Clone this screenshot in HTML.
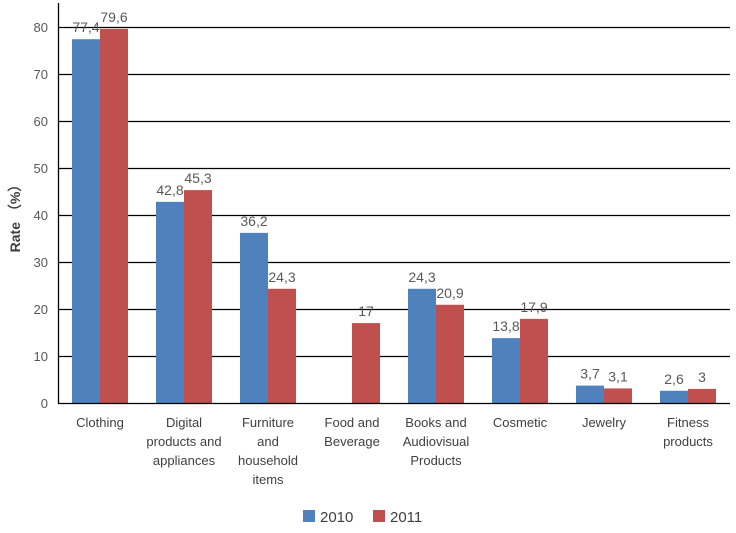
<!DOCTYPE html>
<html><head><meta charset="utf-8"><style>
body{margin:0;background:#fff}
svg{font-family:"Liberation Sans","DejaVu Sans",sans-serif}
</style></head><body>
<svg id="c" width="736" height="528"></svg>
<script>
const categories=[["Clothing"],["Digital","products and","appliances"],["Furniture","and","household","items"],["Food and","Beverage"],["Books and","Audiovisual","Products"],["Cosmetic"],["Jewelry"],["Fitness","products"]];
const series2010=[77.4,42.8,36.2,null,24.3,13.8,3.7,2.6];
const series2011=[79.6,45.3,24.3,17,20.9,17.9,3.1,3];
const ticks=[0,10,20,30,40,50,60,70,80];
const NS="http://www.w3.org/2000/svg";
const svg=document.getElementById('c');
const x0=58,x1=730,yBase=403,yTop80=27;
const y=v=>yBase-(yBase-yTop80)*v/80;
const gw=(x1-x0)/categories.length,bw=28;
function el(t,a,p){const e=document.createElementNS(NS,t);for(const k in a)e.setAttribute(k,a[k]);(p||svg).appendChild(e);return e;}
ticks.forEach(t=>{
  const gy=Math.round(y(t))+0.5;
  if(t>0){const g=el('line',{x1:x0,x2:x1,y1:gy,y2:gy,stroke:'#000','stroke-width':1.3});
  
  }
  const tx=el('text',{x:x0-10,y:y(t)+5,'text-anchor':'end','font-size':13,fill:'#595959'});tx.textContent=t;
  
  
});
const ax=el('line',{x1:x0+0.5,x2:x0+0.5,y1:3,y2:yBase,stroke:'#000','stroke-width':1.3});


const yt=el('text',{x:0,y:0,transform:'translate(20,215) rotate(-90)','text-anchor':'middle','font-size':14,'font-weight':'bold',fill:'#404040'});
yt.textContent='Rate （%）';


function fmt(v){return String(v).replace('.',',');}
categories.forEach((c,i)=>{
  const cx=x0+gw*i+gw/2;
  [[series2010[i],'#4f81bd',cx-bw,'2010'],[series2011[i],'#c0504d',cx,'2011']].forEach(([v,col,bxp,s])=>{
    if(v==null)return;
    const r=el('rect',{x:bxp,y:y(v),width:bw,height:yBase-y(v),fill:col});
    
    
    const lt=el('text',{x:bxp+bw/2,y:y(v)-7,'text-anchor':'middle','font-size':14,fill:'#595959'});
    lt.textContent=fmt(v);
    
    
  });
  c.forEach((line,j)=>{
    const t=el('text',{x:cx,y:427+j*19,'text-anchor':'middle','font-size':13,fill:'#404040'});
    t.textContent=line;
    
    
  });
});
const bx=el('line',{x1:x0,x2:x1,y1:yBase+0.5,y2:yBase+0.5,stroke:'#000','stroke-width':1.3});


[['#4f81bd','2010',303],['#c0504d','2011',373]].forEach(([col,lab,lx])=>{
  const r=el('rect',{x:lx,y:510,width:12,height:12,fill:col});
  
  
  const t=el('text',{x:lx+17,y:522,'font-size':15,fill:'#404040'});
  t.textContent=lab;
  
  
});
</script>
</body></html>
